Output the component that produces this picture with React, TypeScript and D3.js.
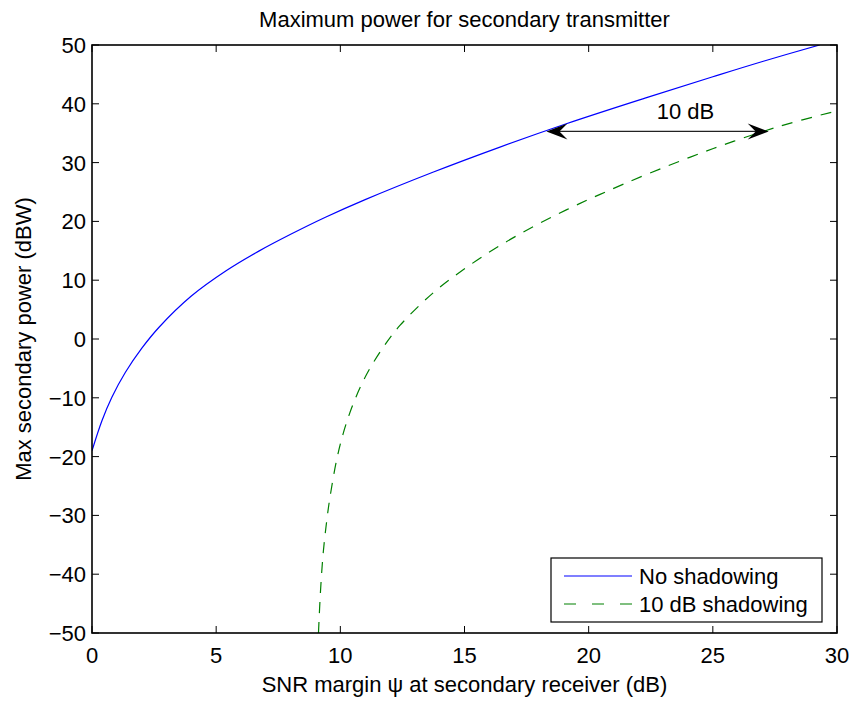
import React, { useEffect, useRef } from "react";
import * as d3 from "d3";

// SNR margin (dB) vs max secondary power (dBW)
const noShadowX = [0, 0.4, 0.8, 1.34, 2.0, 2.7, 4.0, 5.4, 6.7, 8.0, 9.4, 11.0, 13.75, 16.4, 19.1, 22.3, 25.0, 27.0, 29.3];
const noShadowY = [-19, -13.9, -9.9, -5.7, -1.6, 2.0, 7.3, 11.6, 14.9, 17.8, 20.7, 23.7, 28.4, 32.6, 36.6, 41.0, 44.6, 47.2, 50];

const shadowX = [9.12, 9.2, 9.31, 9.45, 9.58, 9.85, 10.12, 10.52, 11.06, 11.73, 12.4, 13.75, 15.09, 16.43, 17.77, 19.12, 20.46, 22.34, 25.02, 27.71, 30];
const shadowY = [-50, -43.0, -36.4, -31.0, -27.0, -20.6, -16.0, -11.0, -6.0, -1.4, 2.3, 7.9, 12.2, 15.9, 19.1, 22.0, 24.6, 28.0, 32.4, 36.2, 38.8];

const xTicks = [0, 5, 10, 15, 20, 25, 30];
const yTicks = [-50, -40, -30, -20, -10, 0, 10, 20, 30, 40, 50];

const seriesNames = ["No shadowing", "10 dB shadowing"];
const seriesColors = ["#0000ff", "#008000"];

// double arrow annotation: [x, y] in data units
const arrowFrom = [18.3, 35.3];
const arrowTo = [27.25, 35.3];
const arrowLabel = "10 dB";

const W = 855;
const H = 701;
const FONT = "'Liberation Sans', Arial, Helvetica, sans-serif";
const FS = "22px";

const App = () => {
  const ref = useRef<SVGSVGElement>(null);

  useEffect(() => {
    const svg = d3.select(ref.current);
    svg.selectAll("*").remove();

    const left = 92;
    const right = 837;
    const top = 45;
    const bottom = 633;

    const x = d3.scaleLinear().domain([0, 30]).range([left, right]);
    const y = d3.scaleLinear().domain([-50, 50]).range([bottom, top]);

    svg.append("rect").attr("width", W).attr("height", H).attr("fill", "#fff");

    svg
      .append("defs")
      .append("clipPath")
      .attr("id", "plot-clip")
      .append("rect")
      .attr("x", left)
      .attr("y", top)
      .attr("width", right - left)
      .attr("height", bottom - top);

    const line = d3
      .line<[number, number]>()
      .x((d) => x(d[0]))
      .y((d) => y(d[1]))
      .curve(d3.curveCatmullRom.alpha(0.5));

    const plot = svg.append("g").attr("clip-path", "url(#plot-clip)");

    plot
      .append("path")
      .datum(noShadowX.map((v, i) => [v, noShadowY[i]] as [number, number]))
      .attr("d", line)
      .attr("fill", "none")
      .attr("stroke", seriesColors[0])
      .attr("stroke-width", 1.2);

    plot
      .append("path")
      .datum(shadowX.map((v, i) => [v, shadowY[i]] as [number, number]))
      .attr("d", line)
      .attr("fill", "none")
      .attr("stroke", seriesColors[1])
      .attr("stroke-width", 1.2)
      .attr("stroke-dasharray", "11,9");

    // box + inward ticks on all four sides
    const tickLen = 7;
    const axes = svg.append("g").attr("stroke", "#000").attr("stroke-width", 1);
    xTicks.forEach((t) => {
      axes.append("line").attr("x1", x(t)).attr("x2", x(t)).attr("y1", bottom).attr("y2", bottom - tickLen);
      axes.append("line").attr("x1", x(t)).attr("x2", x(t)).attr("y1", top).attr("y2", top + tickLen);
    });
    yTicks.forEach((t) => {
      axes.append("line").attr("x1", left).attr("x2", left + tickLen).attr("y1", y(t)).attr("y2", y(t));
      axes.append("line").attr("x1", right).attr("x2", right - tickLen).attr("y1", y(t)).attr("y2", y(t));
    });
    svg
      .append("rect")
      .attr("x", left)
      .attr("y", top)
      .attr("width", right - left)
      .attr("height", bottom - top)
      .attr("fill", "none")
      .attr("stroke", "#000")
      .attr("stroke-width", 1.6);

    const fmt = (v: number) => (v < 0 ? "\u2212" + Math.abs(v) : String(v));

    svg
      .append("g")
      .selectAll("text")
      .data(xTicks)
      .join("text")
      .attr("x", (d) => x(d))
      .attr("y", 663)
      .attr("text-anchor", "middle")
      .style("font-family", FONT)
      .style("font-size", FS)
      .text((d) => fmt(d));

    svg
      .append("g")
      .selectAll("text")
      .data(yTicks)
      .join("text")
      .attr("x", 86)
      .attr("y", (d) => y(d))
      .attr("dy", "0.36em")
      .attr("text-anchor", "end")
      .style("font-family", FONT)
      .style("font-size", FS)
      .text((d) => fmt(d));

    svg
      .append("text")
      .attr("x", (left + right) / 2)
      .attr("y", 27)
      .attr("text-anchor", "middle")
      .style("font-family", FONT)
      .style("font-size", FS)
      .text("Maximum power for secondary transmitter");

    svg
      .append("text")
      .attr("x", (left + right) / 2)
      .attr("y", 692)
      .attr("text-anchor", "middle")
      .style("font-family", FONT)
      .style("font-size", FS)
      .text("SNR margin \u03c8 at secondary receiver (dB)");

    svg
      .append("text")
      .attr("transform", `translate(31,${(top + bottom) / 2}) rotate(-90)`)
      .attr("text-anchor", "middle")
      .style("font-family", FONT)
      .style("font-size", FS)
      .text("Max secondary power (dBW)");

    // 10 dB arrow
    const ax1 = x(arrowFrom[0]);
    const ax2 = x(arrowTo[0]);
    const ay = y(arrowFrom[1]);
    const headL = 21;
    const headW = 8;
    svg
      .append("line")
      .attr("x1", ax1 + 10)
      .attr("x2", ax2 - 10)
      .attr("y1", ay)
      .attr("y2", ay)
      .attr("stroke", "#222")
      .attr("stroke-width", 1.2);
    const head = (tx: number, dir: number) =>
      `M${tx},${ay} L${tx + dir * headL},${ay - headW} L${tx + dir * headL * 0.62},${ay} L${tx + dir * headL},${ay + headW} Z`;
    svg.append("path").attr("d", head(ax1, 1)).attr("fill", "#000");
    svg.append("path").attr("d", head(ax2, -1)).attr("fill", "#000");

    svg
      .append("text")
      .attr("x", x(23.9))
      .attr("y", 119)
      .attr("text-anchor", "middle")
      .style("font-family", FONT)
      .style("font-size", FS)
      .text(arrowLabel);

    // legend
    const legend = svg.append("g").attr("transform", "translate(551,558)");
    legend
      .append("rect")
      .attr("width", 271)
      .attr("height", 64)
      .attr("fill", "#fff")
      .attr("stroke", "#000")
      .attr("stroke-width", 1.2);
    seriesNames.forEach((name, i) => {
      const ly = 18 + i * 28;
      legend
        .append("line")
        .attr("x1", 13)
        .attr("x2", 81)
        .attr("y1", ly)
        .attr("y2", ly)
        .attr("stroke", seriesColors[i])
        .attr("stroke-width", 1.2)
        .attr("stroke-dasharray", i === 1 ? "12,16" : null);
      legend
        .append("text")
        .attr("x", 88)
        .attr("y", ly)
        .attr("dy", "0.36em")
        .style("font-family", FONT)
        .style("font-size", FS)
        .text(name);
    });
  }, []);

  return (
    <svg
      ref={ref}
      width={W}
      height={H}
      style={{ position: "absolute", left: 0, top: 0, display: "block" }}
    />
  );
};

export default App;
